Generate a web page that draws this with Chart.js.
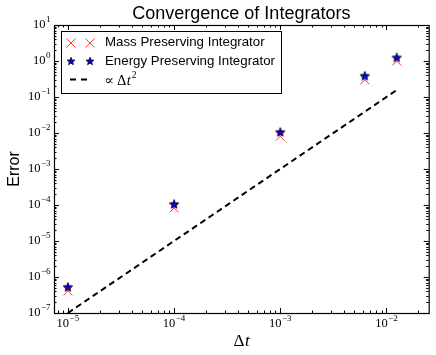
<!DOCTYPE html>
<html>
<head>
<meta charset="utf-8">
<script src="https://cdn.jsdelivr.net/npm/chart.js@4/dist/chart.umd.min.js"></script>
<style>
  html, body { margin: 0; padding: 0; background: #fff; overflow: hidden; }
  #chart { display: block; }
</style>
</head>
<body>
<canvas id="chart" width="436" height="355"></canvas>
<script>
// step sizes and measured errors
const dtValues = [1e-5, 1e-4, 1e-3, 0.00625, 0.0125];
const massError = [4.1e-7, 8.3e-5, 8.1e-3, 0.30, 1.0];
const energyError = [5.3e-7, 1.07e-4, 1.07e-2, 0.39, 1.26];
const refLine = [1e-7, 1e-5, 1e-3, 0.039, 0.156];

const xTickExps = [-5, -4, -3, -2];
const yTickExps = [1, 0, -1, -2, -3, -4, -5, -6, -7];

const SANS = '"Liberation Sans", Arial, sans-serif';
const SERIF = '"Liberation Serif", "DejaVu Serif", serif';
const CROSS_RED = '#ff3a3a';

function toPoints(ys) {
  return dtValues.map((x, i) => ({ x: x, y: ys[i] }));
}

function makeStar(size, outer, fill) {
  const c = document.createElement('canvas');
  c.width = size; c.height = size;
  const g = c.getContext('2d');
  const cx = size / 2, cy = size / 2 + 0.4;
  const inner = outer * 0.42;
  g.beginPath();
  for (let i = 0; i < 10; i++) {
    const r = i % 2 ? inner : outer;
    const a = -Math.PI / 2 + i * Math.PI / 5;
    g.lineTo(cx + r * Math.cos(a), cy + r * Math.sin(a));
  }
  g.closePath();
  g.fillStyle = fill;
  g.fill();
  g.lineWidth = 0.8;
  g.strokeStyle = '#000';
  g.stroke();
  return c;
}

function makeCross(size, color) {
  const c = document.createElement('canvas');
  c.width = size; c.height = size;
  const g = c.getContext('2d');
  g.strokeStyle = color;
  g.lineWidth = 1;
  g.beginPath();
  g.moveTo(0.5, 0.5); g.lineTo(size - 0.5, size - 0.5);
  g.moveTo(0.5, size - 0.5); g.lineTo(size - 0.5, 0.5);
  g.stroke();
  return c;
}

const starImg = makeStar(12, 4.8, '#0000ff');
const legendStar = makeStar(10, 4.1, '#0000ff');
const legendCross = makeCross(10, CROSS_RED);

function drawPow(ctx, exp, x, y, align) {
  const base = '10';
  const sup = String(exp).replace('-', '\u2212');
  ctx.font = '12.5px ' + SERIF;
  const bw = ctx.measureText(base).width;
  ctx.font = '9px ' + SERIF;
  const sw = ctx.measureText(sup).width;
  const total = bw + sw + 0.5;
  let left = x;
  if (align === 'right') left = x - total;
  if (align === 'center') left = x - total / 2;
  ctx.fillStyle = '#000';
  ctx.textAlign = 'left';
  ctx.textBaseline = 'alphabetic';
  ctx.font = '12.5px ' + SERIF;
  ctx.fillText(base, left, y);
  ctx.font = '9px ' + SERIF;
  ctx.fillText(sup, left + bw + 0.5, y - 6);
}

const decor = {
  id: 'decor',
  afterDraw(chart) {
    const ctx = chart.ctx;
    const a = chart.chartArea;
    const xs = chart.scales.x, ys = chart.scales.y;
    ctx.save();

    // ticks on all four sides, pointing inward
    ctx.strokeStyle = '#000';
    ctx.lineWidth = 1;
    ctx.beginPath();
    for (let e = -6; e <= -1; e++) {
      for (let m = 1; m <= 9; m++) {
        const v = m * Math.pow(10, e);
        if (v < xs.min || v > xs.max) continue;
        const px = Math.round(xs.getPixelForValue(v)) + 0.5;
        const len = m === 1 ? 5 : 2.5;
        ctx.moveTo(px, a.bottom); ctx.lineTo(px, a.bottom - len);
        ctx.moveTo(px, a.top); ctx.lineTo(px, a.top + len);
      }
    }
    for (let e = -8; e <= 1; e++) {
      for (let m = 1; m <= 9; m++) {
        const v = m * Math.pow(10, e);
        if (v < ys.min || v > ys.max) continue;
        const py = Math.round(ys.getPixelForValue(v)) + 0.5;
        const len = m === 1 ? 5 : 2.5;
        ctx.moveTo(a.left, py); ctx.lineTo(a.left + len, py);
        ctx.moveTo(a.right, py); ctx.lineTo(a.right - len, py);
      }
    }
    ctx.stroke();

    // frame
    ctx.lineWidth = 1.2;
    ctx.strokeRect(a.left + 0.5, a.top + 0.5, a.right - a.left, a.bottom - a.top);

    // tick labels
    xTickExps.forEach(e => {
      drawPow(ctx, e, xs.getPixelForValue(Math.pow(10, e)), a.bottom + 14, 'center');
    });
    yTickExps.forEach(e => {
      drawPow(ctx, e, a.left - 3.5, ys.getPixelForValue(Math.pow(10, e)) + 3, 'right');
    });

    // title and axis labels
    ctx.fillStyle = '#000';
    ctx.textAlign = 'center';
    ctx.textBaseline = 'alphabetic';
    ctx.font = '18px ' + SANS;
    ctx.fillText('Convergence of Integrators', (a.left + a.right) / 2, 19);

    ctx.font = '17px ' + SERIF;
    const dw = ctx.measureText('\u0394').width;
    ctx.font = 'italic 17px ' + SERIF;
    const tw0 = ctx.measureText('t').width;
    const cx = (a.left + a.right) / 2 - (dw + tw0) / 2;
    ctx.textAlign = 'left';
    ctx.font = '17px ' + SERIF;
    ctx.fillText('\u0394', cx, 346);
    ctx.font = 'italic 17px ' + SERIF;
    ctx.fillText('t', cx + dw + 0.5, 346);

    ctx.save();
    ctx.textAlign = 'center';
    ctx.translate(19, (a.top + a.bottom) / 2);
    ctx.rotate(-Math.PI / 2);
    ctx.font = '16px ' + SANS;
    ctx.fillText('Error', 0, 0);
    ctx.restore();

    // legend with two markers per entry
    const lx = Math.round(a.left + 7), ly = Math.round(a.top + 6), lw = 220, lh = 62;
    ctx.fillStyle = '#fff';
    ctx.fillRect(lx, ly, lw, lh);
    ctx.lineWidth = 1;
    ctx.strokeStyle = '#000';
    ctx.strokeRect(lx + 0.5, ly + 0.5, lw, lh);
    const rows = [ly + 11.5, ly + 30, ly + 48.5];
    const m1 = lx + 9.5, m2 = lx + 28.5;
    [m1, m2].forEach(mx => ctx.drawImage(legendCross, Math.round(mx - 5), Math.round(rows[0] - 5)));
    [m1, m2].forEach(mx => ctx.drawImage(legendStar, Math.round(mx - 5), Math.round(rows[1] - 5)));
    ctx.beginPath();
    ctx.strokeStyle = '#000';
    ctx.lineWidth = 2;
    ctx.setLineDash([6, 5]);
    ctx.moveTo(m1 - 0.5, rows[2]); ctx.lineTo(m1 + 16.5, rows[2]);
    ctx.stroke();
    ctx.setLineDash([]);

    ctx.fillStyle = '#000';
    ctx.textAlign = 'left';
    ctx.textBaseline = 'middle';
    ctx.font = '13.3px ' + SANS;
    ctx.fillText('Mass Preserving Integrator', lx + 44, rows[0]);
    ctx.fillText('Energy Preserving Integrator', lx + 44, rows[1]);
    ctx.textBaseline = 'alphabetic';
    const bl = rows[2] + 5;
    ctx.font = '14px "DejaVu Serif", serif';
    ctx.fillText('\u221D', lx + 43.5, bl);
    ctx.font = '14.5px ' + SERIF;
    ctx.fillText('\u0394', lx + 56, bl);
    const dlw = ctx.measureText('\u0394').width;
    ctx.font = 'italic 14.5px ' + SERIF;
    ctx.fillText('t', lx + 56 + dlw + 0.5, bl);
    const tw = ctx.measureText('t').width;
    ctx.font = '9.5px ' + SERIF;
    ctx.fillText('2', lx + 56 + dlw + tw + 1.5, bl - 6.5);

    ctx.restore();
  }
};

new Chart(document.getElementById('chart'), {
  type: 'scatter',
  data: {
    datasets: [
      {
        label: 'Energy Preserving Integrator',
        data: toPoints(energyError),
        pointStyle: starImg,
        pointRadius: 6,
        order: 0
      },
      {
        label: 'Mass Preserving Integrator',
        data: toPoints(massError),
        pointStyle: 'crossRot',
        pointRadius: 6.3,
        borderColor: CROSS_RED,
        backgroundColor: CROSS_RED,
        borderWidth: 1,
        order: 1
      },
      {
        label: '\u221D \u0394t\u00B2',
        data: toPoints(refLine),
        showLine: true,
        borderColor: '#000',
        borderWidth: 2,
        borderDash: [6, 4],
        pointRadius: 0,
        order: 2
      }
    ]
  },
  options: {
    responsive: false,
    animation: false,
    layout: { padding: { left: 46, right: 7, top: 25, bottom: 34 } },
    plugins: { legend: { display: false }, tooltip: { enabled: false }, title: { display: false } },
    scales: {
      x: {
        type: 'logarithmic', min: 7.4e-6, max: 0.025,
        ticks: { display: false }, grid: { display: false }, border: { display: false }
      },
      y: {
        type: 'logarithmic', min: 1e-7, max: 10,
        ticks: { display: false }, grid: { display: false }, border: { display: false }
      }
    }
  },
  plugins: [decor]
});
</script>
</body>
</html>
